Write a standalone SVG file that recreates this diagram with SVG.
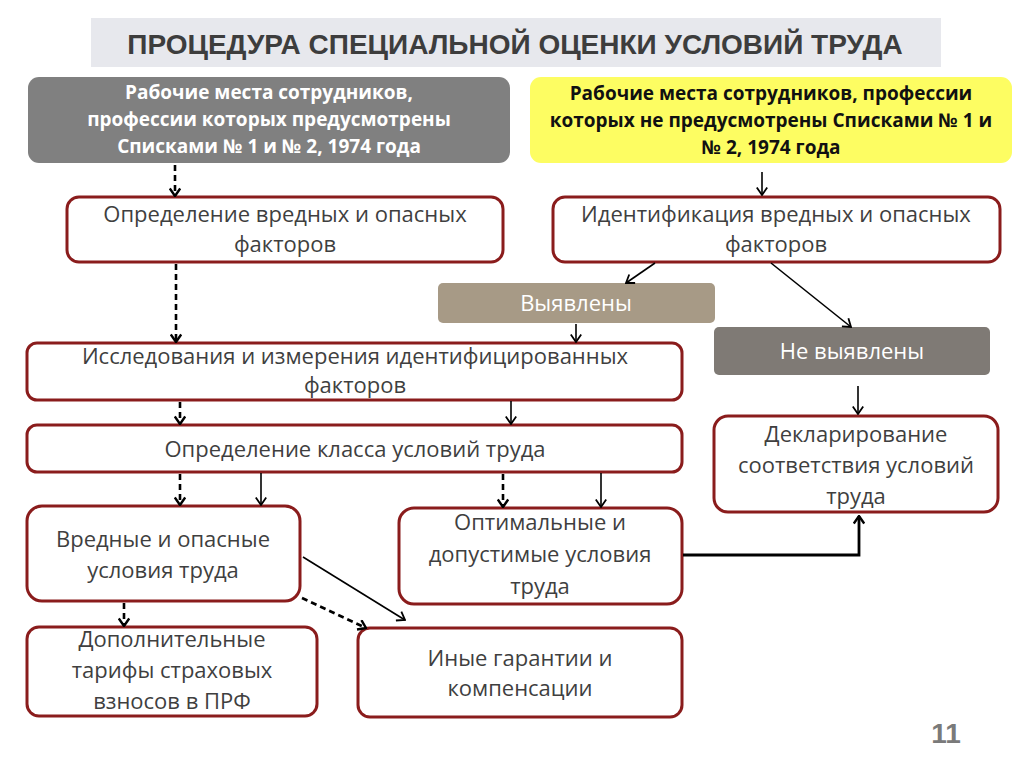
<svg xmlns="http://www.w3.org/2000/svg" width="1024" height="767" viewBox="0 0 1024 767">
<style>
.box{fill:#fff;stroke:#8a1c1c;stroke-width:3}
.t{font-family:"Open Sans","Noto Sans","DejaVu Sans",sans-serif;font-size:22px;fill:#3f3f3f;text-anchor:middle}
.tb{font-family:"Open Sans","Noto Sans","DejaVu Sans",sans-serif;font-size:19px;font-weight:bold;text-anchor:middle}
.tw{font-family:"Open Sans","Noto Sans","DejaVu Sans",sans-serif;font-size:22px;fill:#fff;text-anchor:middle}
.s{fill:none;stroke:#000;stroke-width:1.6}
.d{fill:none;stroke:#000;stroke-width:2.6;stroke-dasharray:6,4}
</style>
<defs>
<marker id="a" viewBox="0 0 10 12" refX="9" refY="6" markerWidth="10" markerHeight="12" markerUnits="userSpaceOnUse" orient="auto">
<path d="M1.5,0.8 L9,6 L1.5,11.2" fill="none" stroke="#000" stroke-width="1.8"/>
</marker>
<marker id="ad" viewBox="0 0 10 12" refX="9" refY="6" markerWidth="10" markerHeight="12" markerUnits="userSpaceOnUse" orient="auto">
<path d="M1.5,0.8 L9,6 L1.5,11.2" fill="none" stroke="#000" stroke-width="2.4"/>
</marker>
</defs>
<rect width="1024" height="767" fill="#fff"/>
<g id="title">
<rect x="91" y="18" width="850" height="49" fill="#e7e8ed"/>
<text x="515" y="54" font-family="Liberation Sans, Arial, sans-serif" font-size="28" font-weight="bold" fill="#3d3d3d" text-anchor="middle">ПРОЦЕДУРА СПЕЦИАЛЬНОЙ ОЦЕНКИ УСЛОВИЙ ТРУДА</text>
</g>
<g id="n-gray">
<rect x="28" y="77" width="482" height="86" rx="11" fill="#808080"/>
<text class="tb" fill="#fff" x="269" y="99">Рабочие места сотрудников,</text>
<text class="tb" fill="#fff" x="269" y="126">профессии которых  предусмотрены</text>
<text class="tb" fill="#fff" x="269" y="153">Списками № 1 и № 2, 1974 года</text>
</g>
<g id="n-yellow">
<rect x="530" y="77" width="482" height="86" rx="11" fill="#fdfd62"/>
<text class="tb" fill="#111" x="771" y="100">Рабочие места сотрудников, профессии</text>
<text class="tb" fill="#111" x="771" y="127">которых не предусмотрены Списками № 1 и</text>
<text class="tb" fill="#111" x="771" y="154">№ 2, 1974 года</text>
</g>
<g id="n-opred">
<rect class="box" x="67" y="197" width="436" height="65" rx="12"/>
<text class="t" x="285" y="222">Определение вредных и опасных</text>
<text class="t" x="285" y="252">факторов</text>
</g>
<g id="n-ident">
<rect class="box" x="553" y="197" width="447" height="65" rx="12"/>
<text class="t" x="776" y="222">Идентификация вредных и опасных</text>
<text class="t" x="776" y="252">факторов</text>
</g>
<g id="n-vyyav">
<rect x="438" y="283" width="277" height="40" rx="5" fill="#a79a86"/>
<text class="tw" x="576" y="311">Выявлены</text>
</g>
<g id="n-nevyyav">
<rect x="714" y="327" width="276" height="48" rx="5" fill="#7f7a75"/>
<text class="tw" x="852" y="359">Не выявлены</text>
</g>
<g id="n-issl">
<rect class="box" x="27" y="343" width="655" height="57" rx="10"/>
<text class="t" x="355" y="364">Исследования и измерения идентифицированных</text>
<text class="t" x="355" y="393">факторов</text>
</g>
<g id="n-klass">
<rect class="box" x="27" y="425" width="655" height="47" rx="10"/>
<text class="t" x="355" y="457">Определение класса условий труда</text>
</g>
<g id="n-dekl">
<rect class="box" x="714" y="416" width="284" height="96" rx="14"/>
<text class="t" x="856" y="442">Декларирование</text>
<text class="t" x="856" y="473">соответствия условий</text>
<text class="t" x="856" y="504">труда</text>
</g>
<g id="n-vred">
<rect class="box" x="27" y="506" width="273" height="95" rx="15"/>
<text class="t" x="163" y="547">Вредные и опасные</text>
<text class="t" x="163" y="578">условия труда</text>
</g>
<g id="n-optim">
<rect class="box" x="399" y="508" width="283" height="96" rx="15"/>
<text class="t" x="540" y="530">Оптимальные и</text>
<text class="t" x="540" y="562">допустимые условия</text>
<text class="t" x="540" y="594">труда</text>
</g>
<g id="n-dop">
<rect class="box" x="27" y="627" width="290" height="89" rx="12"/>
<text class="t" x="172" y="647">Дополнительные</text>
<text class="t" x="172" y="678">тарифы страховых</text>
<text class="t" x="172" y="709">взносов в ПРФ</text>
</g>
<g id="n-inye">
<rect class="box" x="358" y="628" width="324" height="89" rx="12"/>
<text class="t" x="520" y="666">Иные гарантии и</text>
<text class="t" x="520" y="696">компенсации</text>
</g>
<g id="connectors">
<line class="d" x1="175" y1="165" x2="175" y2="196" marker-end="url(#ad)"/>
<line class="s" x1="762" y1="172" x2="762" y2="195" marker-end="url(#a)"/>
<line class="d" x1="176" y1="264" x2="176" y2="342" marker-end="url(#ad)"/>
<line class="s" x1="655" y1="263" x2="626" y2="283" marker-end="url(#a)"/>
<line class="s" x1="771" y1="263" x2="851" y2="327" marker-end="url(#a)"/>
<line class="s" x1="576" y1="324" x2="576" y2="342" marker-end="url(#a)"/>
<line class="s" x1="858" y1="386" x2="858" y2="414" marker-end="url(#a)"/>
<line class="d" x1="180" y1="402" x2="180" y2="424" marker-end="url(#ad)"/>
<line class="s" x1="511" y1="401" x2="511" y2="424" marker-end="url(#a)"/>
<line class="d" x1="180" y1="474" x2="180" y2="505" marker-end="url(#ad)"/>
<line class="s" x1="261" y1="473" x2="261" y2="505" marker-end="url(#a)"/>
<line class="d" x1="503" y1="474" x2="503" y2="507" marker-end="url(#ad)"/>
<line class="s" x1="601" y1="473" x2="601" y2="507" marker-end="url(#a)"/>
<line class="d" x1="124" y1="603" x2="124" y2="626" marker-end="url(#ad)"/>
<line class="d" x1="302" y1="598" x2="366" y2="628" marker-end="url(#ad)"/>
<line class="s" x1="303" y1="557" x2="405" y2="620" marker-end="url(#a)"/>
<polyline points="683,555 859,555 859,516" fill="none" stroke="#000" stroke-width="2.8" marker-end="url(#ad)"/>
</g>
<text x="946" y="743" font-family="Liberation Sans, Arial, sans-serif" font-size="28" font-weight="bold" fill="#7a7a7a" text-anchor="middle">11</text>
</svg>
